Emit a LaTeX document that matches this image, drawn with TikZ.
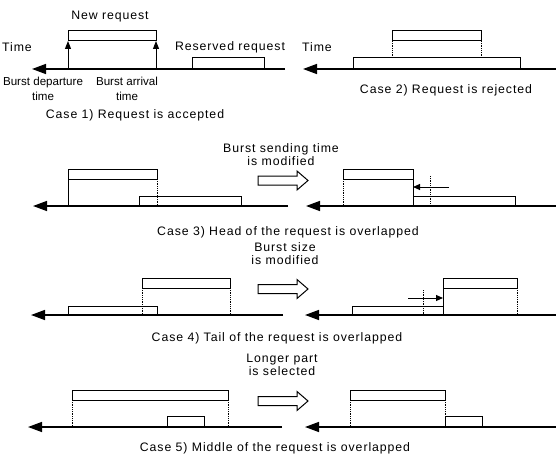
\documentclass[tikz,border=0pt]{standalone}
\usepackage{fontspec}
\setmainfont{Liberation Sans}[LetterSpace=7.5]
\usetikzlibrary{arrows.meta}

\tikzset{
    hollowarr/.pic={
        \draw[line width=1pt, fill=white] (0,-4.5) -- (39,-4.5) -- (39,-9.5) -- (50,0) -- (39,9.5) -- (39,4.5) -- (0,4.5) -- cycle;
    }
}

\begin{document}
\begin{tikzpicture}[
    x=1pt, y=-1pt,
    lbl/.style={inner sep=0pt, align=center, font=\fontsize{12.3}{12.8}\selectfont},
    tight/.style={inner sep=0pt, align=center, font=\fontsize{11.6}{12}\selectfont\addfontfeature{LetterSpace=0}},
    axis/.style={line width=1.4pt, -{Triangle[length=14pt, width=10pt]}},
    req/.style={draw, line width=1pt},
    proj/.style={densely dotted, line width=0.8pt},
    side/.style={line width=1pt},
    uparrow/.style={line width=1pt, -{Triangle[length=8pt, width=6pt]}},
    shiftarrow/.style={line width=1pt, -{Triangle[length=7pt, width=6pt]}}
]
\useasboundingbox (0,0) rectangle (556,457);

% case 1
\coordinate (ax1r) at (285,69);
\coordinate (ax1l) at (32,69);
\draw[axis] (ax1r) -- (ax1l);
\draw[req] (68,31) rectangle (156,41);
\draw[uparrow] (68,69) -- (68,41);
\draw[uparrow] (156,69) -- (156,41);
\draw[req] (192,58) rectangle (264,69);
\node[lbl] (new1) at (110,17) {New request};
\node[lbl, anchor=west] (time1) at (2,47) {Time};
\node[lbl] (res1) at (230,47) {Reserved request};
\node[tight] (dep1) at (43,89) {Burst departure\\[3pt]time};
\node[tight] (arr1) at (127,89) {Burst arrival\\[3pt]time};
\node[lbl] (cap1) at (135,115) {Case 1) Request is accepted};

% case 2
\coordinate (ax2r) at (556,69);
\coordinate (ax2l) at (303,69);
\draw[axis] (ax2r) -- (ax2l);
\draw[req] (353,58) rectangle (520,69);
\draw[req] (392,31) rectangle (481,41);
\draw[proj] (392,41) -- (392,58);
\draw[proj] (481,41) -- (481,58);
\node[lbl, anchor=west] (time2) at (302,47) {Time};
\node[lbl] (cap2) at (446,90) {Case 2) Request is rejected};

% case 3
\coordinate (ax3l) at (33,206);
\coordinate (ax3m) at (288,206);
\coordinate (ax3n) at (306,206);
\coordinate (ax3r) at (556,206);
\draw[axis] (ax3m) -- (ax3l);
\draw[axis] (ax3r) -- (ax3n);
\draw[req] (68,169) rectangle (157,179);
\draw[side] (68,179) -- (68,206);
\draw[proj] (157,179) -- (157,206);
\draw[req] (139,196) rectangle (241,206);
\pic at (258,180.5) {hollowarr};
\node[lbl] (txt3) at (281,155) {Burst sending time\\is modified};
\draw[req] (343,169) rectangle (413,179);
\draw[proj] (343,179) -- (343,206);
\draw[side] (413,179) -- (413,196);
\draw[req] (413,196) rectangle (515,206);
\draw[proj] (430,176) -- (430,206);
\draw[shiftarrow] (449,187) -- (413,187);
\node[lbl] (cap3) at (288,232) {Case 3) Head of the request is overlapped};

% case 4
\coordinate (ax4l) at (31,315);
\coordinate (ax4m) at (283,315);
\coordinate (ax4n) at (305,315);
\coordinate (ax4r) at (556,315);
\draw[axis] (ax4m) -- (ax4l);
\draw[axis] (ax4r) -- (ax4n);
\draw[req] (142,278) rectangle (230,288);
\draw[proj] (142,288) -- (142,315);
\draw[proj] (230,288) -- (230,315);
\draw[req] (68,306) rectangle (157,315);
\pic at (258,289) {hollowarr};
\node[lbl] (txt4) at (285,254) {Burst size\\is modified};
\draw[req] (443,278) rectangle (517,288);
\draw[side] (443,288) -- (443,306);
\draw[proj] (517,288) -- (517,315);
\draw[req] (352,306) rectangle (443,315);
\draw[proj] (423,290) -- (423,315);
\draw[shiftarrow] (408,298) -- (443,298);
\node[lbl] (cap4) at (277,338) {Case 4) Tail of the request is overlapped};

% case 5
\coordinate (ax5l) at (28,427);
\coordinate (ax5m) at (282,427);
\coordinate (ax5n) at (305,427);
\coordinate (ax5r) at (556,427);
\draw[axis] (ax5m) -- (ax5l);
\draw[axis] (ax5r) -- (ax5n);
\draw[req] (72,390) rectangle (228,400);
\draw[proj] (72,400) -- (72,427);
\draw[proj] (228,400) -- (228,427);
\draw[req] (167,416) rectangle (204,427);
\pic at (258,401) {hollowarr};
\node[lbl] (txt5) at (282,365) {Longer part\\is selected};
\draw[req] (350,390) rectangle (445,400);
\draw[proj] (350,400) -- (350,427);
\draw[proj] (445,400) -- (445,427);
\draw[req] (445,416) rectangle (482,427);
\node[lbl] (cap5) at (275,448) {Case 5) Middle of the request is overlapped};
\end{tikzpicture}
\end{document}
